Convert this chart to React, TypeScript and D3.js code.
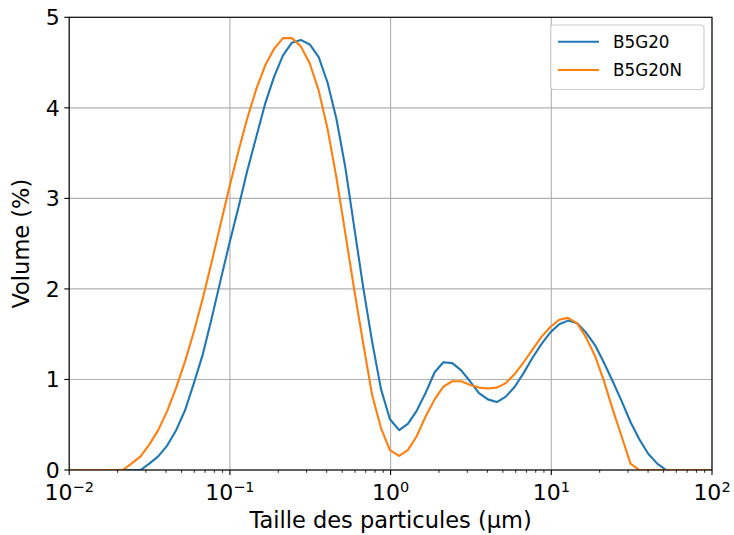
import React from "react";
import * as d3 from "d3";

const sizes = [0.01, 0.0114, 0.0129, 0.0147, 0.0167, 0.0189, 0.0215, 0.0244, 0.0278, 0.0315, 0.0358, 0.0407, 0.0463, 0.0526, 0.0597, 0.0679, 0.0771, 0.0876, 0.0995, 0.113, 0.128, 0.146, 0.166, 0.188, 0.214, 0.243, 0.276, 0.314, 0.357, 0.405, 0.46, 0.523, 0.594, 0.675, 0.767, 0.872, 0.991, 1.13, 1.28, 1.45, 1.65, 1.88, 2.13, 2.42, 2.75, 3.12, 3.55, 4.03, 4.58, 5.21, 5.92, 6.72, 7.64, 8.68, 9.86, 11.2, 12.7, 14.5, 16.4, 18.7, 21.2, 24.1, 27.4, 31.1, 35.3, 40.1, 45.6, 51.8, 58.9, 66.9, 76, 86.4, 98.1, 111];

const b5g20 = [0, 0, 0, 0, 0, 0, 0, 0, 0, 0.07, 0.15, 0.27, 0.44, 0.66, 0.96, 1.28, 1.68, 2.1, 2.51, 2.9, 3.3, 3.68, 4.05, 4.34, 4.58, 4.72, 4.75, 4.7, 4.56, 4.28, 3.88, 3.34, 2.68, 2.02, 1.42, 0.89, 0.56, 0.44, 0.51, 0.65, 0.85, 1.08, 1.19, 1.18, 1.1, 0.98, 0.85, 0.78, 0.75, 0.81, 0.92, 1.07, 1.24, 1.39, 1.52, 1.61, 1.65, 1.62, 1.52, 1.38, 1.19, 0.98, 0.76, 0.53, 0.34, 0.18, 0.07, 0, 0, 0, 0, 0, 0, 0];

const b5g20n = [0, 0, 0, 0, 0, 0, 0, 0.07, 0.15, 0.28, 0.44, 0.65, 0.91, 1.2, 1.53, 1.9, 2.3, 2.72, 3.13, 3.52, 3.88, 4.21, 4.47, 4.65, 4.77, 4.77, 4.68, 4.49, 4.19, 3.77, 3.23, 2.61, 1.99, 1.4, 0.83, 0.46, 0.22, 0.156, 0.22, 0.37, 0.59, 0.78, 0.92, 0.98, 0.98, 0.94, 0.91, 0.9, 0.91, 0.96, 1.06, 1.19, 1.33, 1.47, 1.58, 1.66, 1.68, 1.62, 1.47, 1.26, 0.99, 0.67, 0.37, 0.07, 0, 0, 0, 0, 0, 0, 0, 0, 0, 0];

const seriesNames = ["B5G20", "B5G20N"];
const seriesColors = ["#1f77b4", "#ff7f0e"];
const xTickExps = [-2, -1, 0, 1, 2];
const yTicks = [0, 1, 2, 3, 4, 5];

const W = 734, H = 535;
const L = 69.2, R = 712, T = 17.3, B = 470;
const FONT = "DejaVu Sans";

export default function App() {
  const x = d3.scaleLog().domain([0.01, 100]).range([L, R]);
  const y = d3.scaleLinear().domain([0, 5]).range([B, T]);
  const line = d3
    .line<[number, number]>()
    .x((d) => x(d[0]))
    .y((d) => y(d[1]));
  const series = [b5g20, b5g20n];

  const minor: number[] = [];
  for (let e = -2; e < 2; e++) {
    for (let m = 2; m <= 9; m++) minor.push(m * Math.pow(10, e));
  }

  return (
    <svg width={W} height={H} style={{ position: "absolute", left: 0, top: 0, background: "#fff" }} fontFamily={FONT}>
      <defs>
        <clipPath id="plot">
          <rect x={L} y={T} width={R - L} height={B - T} />
        </clipPath>
      </defs>
      {/* grid */}
      {xTickExps.map((e) => (
        <line key={"gx" + e} x1={x(Math.pow(10, e))} x2={x(Math.pow(10, e))} y1={T} y2={B} stroke="#b0b0b0" strokeWidth={1.1} />
      ))}
      {yTicks.map((t) => (
        <line key={"gy" + t} x1={L} x2={R} y1={y(t)} y2={y(t)} stroke="#b0b0b0" strokeWidth={1.1} />
      ))}
      {/* lines */}
      <g clipPath="url(#plot)">
        {series.map((s, i) => (
          <path
            key={i}
            d={line(sizes.map((v, k) => [v, s[k]] as [number, number])) || ""}
            fill="none"
            stroke={seriesColors[i]}
            strokeWidth={2.1}
            strokeLinejoin="round"
            strokeLinecap="square"
          />
        ))}
      </g>
      {/* spines */}
      <rect x={L} y={T} width={R - L} height={B - T} fill="none" stroke="#000" strokeWidth={1.1} />
      {/* x ticks */}
      {xTickExps.map((e) => (
        <g key={"xt" + e}>
          <line x1={x(Math.pow(10, e))} x2={x(Math.pow(10, e))} y1={B} y2={B + 4.9} stroke="#000" strokeWidth={1.1} />
          <text x={x(Math.pow(10, e))} y={499.5} textAnchor="middle" fontSize={22} fill="#000">
            10
            <tspan dy={-7.8} fontSize={14.5}>
              {e < 0 ? "\u2212" + Math.abs(e) : String(e)}
            </tspan>
          </text>
        </g>
      ))}
      {minor.map((m, i) => (
        <line key={"mx" + i} x1={x(m)} x2={x(m)} y1={B} y2={B + 2.8} stroke="#000" strokeWidth={0.85} />
      ))}
      {/* y ticks */}
      {yTicks.map((t) => (
        <g key={"yt" + t}>
          <line x1={L - 4.9} x2={L} y1={y(t)} y2={y(t)} stroke="#000" strokeWidth={1.1} />
          <text x={L - 9.5} y={y(t) + 8} textAnchor="end" fontSize={22} fill="#000">
            {t}
          </text>
        </g>
      ))}
      {/* axis labels */}
      <text x={(L + R) / 2} y={528.3} textAnchor="middle" fontSize={22.5} fill="#000">
        Taille des particules (µm)
      </text>
      <text transform={`translate(29, ${(T + B) / 2}) rotate(-90)`} textAnchor="middle" fontSize={22.5} fill="#000">
        Volume (%)
      </text>
      {/* legend */}
      <rect x={550.5} y={25} width={153.5} height={64.5} rx={3} fill="#fff" fillOpacity={0.8} stroke="#cccccc" strokeWidth={1.1} />
      {seriesNames.map((n, i) => (
        <g key={n}>
          <line x1={558} x2={599} y1={41.7 + i * 28.3} y2={41.7 + i * 28.3} stroke={seriesColors[i]} strokeWidth={2.1} />
          <text x={613} y={41.7 + i * 28.3 + 6} fontSize={16.8} fill="#000">
            {n}
          </text>
        </g>
      ))}
    </svg>
  );
}
